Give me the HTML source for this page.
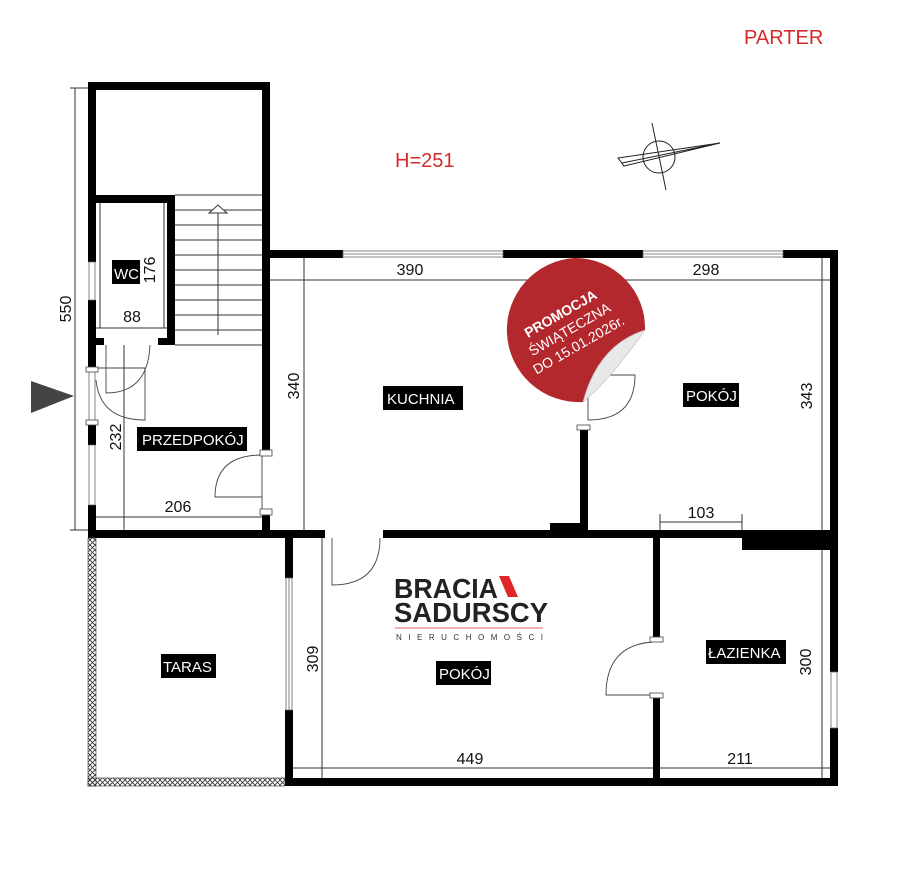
<!DOCTYPE html>
<html><head><meta charset="utf-8"><style>
html,body{margin:0;padding:0;background:#fff;}
svg{display:block;}
text{font-family:"Liberation Sans","DejaVu Sans",sans-serif;}
</style></head><body>
<svg width="923" height="880" viewBox="0 0 923 880" xmlns="http://www.w3.org/2000/svg">
<defs>
<pattern id="hatch" width="5" height="5" patternUnits="userSpaceOnUse">
<path d="M0,0 L5,5 M5,0 L0,5" stroke="#333" stroke-width="0.8"/>
</pattern>
</defs>
<rect width="923" height="880" fill="#fff"/>

<!-- titles -->
<text x="744" y="44" font-size="20" fill="#d42a2a">PARTER</text>
<text x="395" y="167" font-size="20" fill="#d42a2a">H=251</text>

<!-- compass -->
<g stroke="#222" stroke-width="1" fill="none">
<circle cx="659" cy="157" r="16"/>
<line x1="652" y1="123" x2="666" y2="190"/>
<path d="M720,143 L618,158 L624,166 L720,143 M720,143 L622,163"/>
</g>

<!-- entry triangle -->
<polygon points="31,381 74,396 31,413" fill="#444"/>

<!-- thin dimension / inner lines -->
<g stroke="#333" stroke-width="1" fill="none">
<line x1="75" y1="88" x2="75" y2="530"/>
<line x1="70" y1="88" x2="88" y2="88"/>
<line x1="70" y1="530" x2="88" y2="530"/>
<line x1="100" y1="203" x2="100" y2="328"/>
<line x1="96" y1="328" x2="167" y2="328"/>
<line x1="164" y1="203" x2="164" y2="328"/>
<line x1="124" y1="345" x2="124" y2="530"/>
<line x1="96" y1="517" x2="262" y2="517"/>
<line x1="270" y1="280" x2="830" y2="280"/>
<line x1="304" y1="258" x2="304" y2="530"/>
<line x1="822" y1="258" x2="822" y2="530"/>
<line x1="660" y1="522" x2="742" y2="522"/>
<line x1="660" y1="514" x2="660" y2="530"/>
<line x1="742" y1="514" x2="742" y2="530"/>
<line x1="322" y1="538" x2="322" y2="778"/>
<line x1="293" y1="768" x2="830" y2="768"/>
<line x1="822" y1="550" x2="822" y2="778"/>
</g>

<!-- stairs -->
<g stroke="#333" stroke-width="1">
<line x1="175" y1="195" x2="262" y2="195"/>
<line x1="175" y1="210" x2="262" y2="210"/>
<line x1="175" y1="225" x2="262" y2="225"/>
<line x1="175" y1="240" x2="262" y2="240"/>
<line x1="175" y1="255" x2="262" y2="255"/>
<line x1="175" y1="270" x2="262" y2="270"/>
<line x1="175" y1="285" x2="262" y2="285"/>
<line x1="175" y1="300" x2="262" y2="300"/>
<line x1="175" y1="315" x2="262" y2="315"/>
<line x1="175" y1="330" x2="262" y2="330"/>
<line x1="175" y1="345" x2="262" y2="345"/>
<line x1="218" y1="335" x2="218" y2="208"/>
</g>
<path d="M209,213 L218,205 L227,213 Z" fill="#fff" stroke="#333" stroke-width="1"/>

<!-- thick walls -->
<g fill="#000">
<!-- tower -->
<rect x="88" y="82" width="182" height="8"/>
<rect x="88" y="82" width="8" height="180"/>
<rect x="88" y="300" width="8" height="68"/>
<rect x="88" y="422" width="8" height="23"/>
<rect x="88" y="505" width="8" height="33"/>
<rect x="262" y="82" width="8" height="370"/>
<rect x="262" y="510" width="8" height="28"/>
<!-- WC -->
<rect x="96" y="195" width="79" height="8"/>
<rect x="167" y="195" width="8" height="150"/>
<rect x="96" y="338" width="8" height="7"/>
<rect x="158" y="338" width="17" height="7"/>
<!-- main top -->
<rect x="262" y="250" width="81" height="8"/>
<rect x="503" y="250" width="140" height="8"/>
<rect x="783" y="250" width="55" height="8"/>
<rect x="830" y="250" width="8" height="422"/>
<rect x="830" y="728" width="8" height="58"/>
<!-- divider kitchen/pokoj -->
<rect x="580" y="428" width="8" height="102"/>
<rect x="550" y="523" width="38" height="8"/>
<!-- middle horizontal -->
<rect x="96" y="530" width="229" height="8"/>
<rect x="383" y="530" width="455" height="8"/>
<rect x="742" y="530" width="96" height="20"/>
<!-- taras/pokoj wall -->
<rect x="285" y="530" width="8" height="48"/>
<rect x="285" y="710" width="8" height="76"/>
<!-- bathroom divider -->
<rect x="653" y="530" width="7" height="110"/>
<rect x="653" y="695" width="7" height="90"/>
<!-- bottom -->
<rect x="285" y="778" width="553" height="8"/>
</g>

<!-- taras hatched border -->
<rect x="88" y="538" width="8" height="248" fill="url(#hatch)" stroke="#333" stroke-width="0.6"/>
<rect x="88" y="778" width="197" height="8" fill="url(#hatch)" stroke="#333" stroke-width="0.6"/>

<!-- windows -->
<g fill="#fff" stroke="#666" stroke-width="0.8">
<rect x="343" y="251" width="160" height="6"/>
<line x1="343" y1="254" x2="503" y2="254"/>
<rect x="643" y="251" width="140" height="6"/>
<line x1="643" y1="254" x2="783" y2="254"/>
<rect x="89" y="262" width="6" height="38"/>
<rect x="89" y="445" width="6" height="60"/>
<rect x="286" y="578" width="6" height="132"/>
<line x1="289" y1="578" x2="289" y2="710"/>
<rect x="831" y="672" width="6" height="56"/>
<rect x="89" y="368" width="6" height="54"/>
</g>

<!-- doors -->
<g stroke="#444" stroke-width="0.9" fill="none">
<path d="M106,345 L106,393 Q148,393 150,345"/>
<path d="M96,368 L145,368 L145,420 Q100,420 96,380"/>
<path d="M262,455 L262,510 M262,497 L215,497 Q215,455 262,455"/>
<path d="M588,420 L588,375 L635,375 Q635,420 588,420"/>
<path d="M332,538 L332,585 Q380,585 380,538"/>
<path d="M653,695 L606,695 Q606,645 653,642"/>
</g>
<g fill="#fff" stroke="#444" stroke-width="0.8">
<rect x="260" y="450" width="12" height="6"/><rect x="260" y="509" width="12" height="6"/>
<rect x="577" y="425" width="13" height="5"/>
<rect x="650" y="637" width="13" height="5"/><rect x="650" y="693" width="13" height="5"/>
<rect x="86" y="367" width="12" height="5"/><rect x="86" y="420" width="12" height="5"/>
</g>

<!-- dimensions text -->
<g font-size="16" fill="#111">
<text x="410" y="275" text-anchor="middle">390</text>
<text x="706" y="275" text-anchor="middle">298</text>
<text x="132" y="322" text-anchor="middle">88</text>
<text x="178" y="512" text-anchor="middle">206</text>
<text x="701" y="518" text-anchor="middle">103</text>
<text x="470" y="764" text-anchor="middle">449</text>
<text x="740" y="764" text-anchor="middle">211</text>
<text transform="translate(71,309) rotate(-90)" text-anchor="middle">550</text>
<text transform="translate(155,270) rotate(-90)" text-anchor="middle">176</text>
<text transform="translate(121,437) rotate(-90)" text-anchor="middle">232</text>
<text transform="translate(299,386) rotate(-90)" text-anchor="middle">340</text>
<text transform="translate(812,396) rotate(-90)" text-anchor="middle">343</text>
<text transform="translate(318,659) rotate(-90)" text-anchor="middle">309</text>
<text transform="translate(811,662) rotate(-90)" text-anchor="middle">300</text>
</g>

<!-- room labels -->
<g font-size="15" fill="#fff">
<rect x="112" y="260" width="28" height="24" fill="#000"/><text x="114" y="279">WC</text>
<rect x="137" y="427" width="110" height="24" fill="#000"/><text x="142" y="445">PRZEDPOKÓJ</text>
<rect x="383" y="386" width="80" height="24" fill="#000"/><text x="387" y="404">KUCHNIA</text>
<rect x="683" y="383" width="56" height="24" fill="#000"/><text x="686" y="401">POKÓJ</text>
<rect x="161" y="654" width="55" height="24" fill="#000"/><text x="163" y="672">TARAS</text>
<rect x="436" y="661" width="55" height="24" fill="#000"/><text x="439" y="679">POKÓJ</text>
<rect x="706" y="640" width="80" height="24" fill="#000"/><text x="708" y="658">ŁAZIENKA</text>
</g>

<!-- logo -->
<text x="394" y="598" font-size="28" font-weight="bold" fill="#222" textLength="104" lengthAdjust="spacingAndGlyphs">BRACIA</text>
<polygon points="499,576 509,576 518,597 508,597" fill="#e0262b"/>
<text x="394" y="622" font-size="28" font-weight="bold" fill="#222" textLength="154" lengthAdjust="spacingAndGlyphs">SADURSCY</text>
<line x1="395" y1="628" x2="543" y2="628" stroke="#c33" stroke-width="0.8"/>
<text x="396" y="640" font-size="8" fill="#333" textLength="147" lengthAdjust="spacing">NIERUCHOMOŚCI</text>

<!-- promo sticker -->
<path d="M575,258 A70,70 0 1 0 583,402 Q600,370 645,330 A70,70 0 0 0 575,258 Z" fill="#b3282d"/>
<path d="M583,402 Q598,345 645,330 Q610,380 583,402 Z" fill="#e8e8e8" stroke="#bbb" stroke-width="0.6"/>
<g transform="translate(570,330) rotate(-30)" text-anchor="middle" fill="#fff">
<text x="0" y="-14" font-size="14" font-weight="bold">PROMOCJA</text>
<text x="0" y="4" font-size="14">ŚWIĄTECZNA</text>
<text x="0" y="22" font-size="14">DO 15.01.2026r.</text>
</g>
</svg>
</body></html>
